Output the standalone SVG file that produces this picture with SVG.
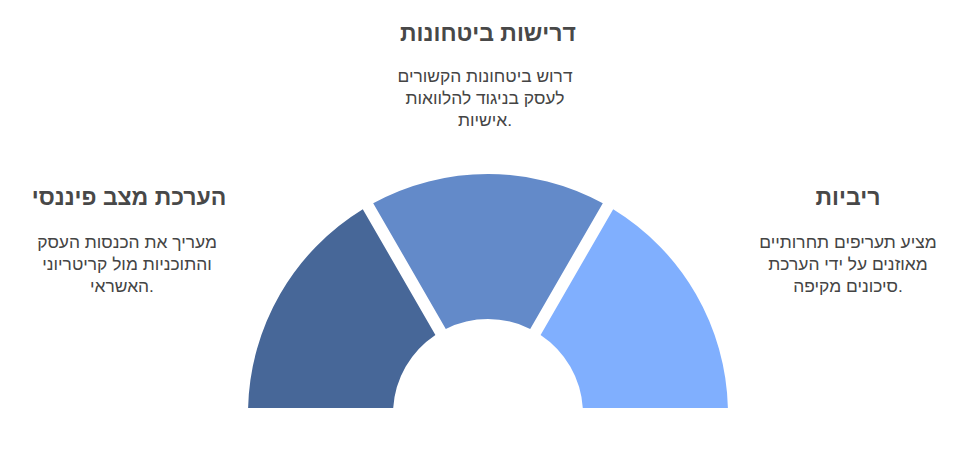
<svg xmlns="http://www.w3.org/2000/svg" width="977" height="468" viewBox="0 0 977 468">
<style>
.t{font-family:"Liberation Sans","DejaVu Sans",sans-serif;font-weight:bold;font-size:23px;fill:#484848;text-anchor:middle}
.b{font-family:"Liberation Sans","DejaVu Sans",sans-serif;font-size:17.4px;fill:#444444;text-anchor:middle}
</style>
<rect width="977" height="468" fill="#ffffff"/>
<g id="sector-left">
<path d="M 248.1 408 A 240 240 0 0 1 362.8 209.2 L 435.4 334.9 A 95 95 0 0 0 393.2 408 Z" fill="#476798"/>
</g>
<g id="sector-middle">
<path d="M 373.2 203.2 A 240 240 0 0 1 602.8 203.2 L 530.2 328.9 A 95 95 0 0 0 445.8 328.9 Z" fill="#638AC9"/>
</g>
<g id="sector-right">
<path d="M 727.9 408 A 240 240 0 0 0 613.2 209.2 L 540.6 334.9 A 95 95 0 0 1 582.8 408 Z" fill="#80AFFE"/>
</g>
<g id="label-top">
<text class="t" x="488" y="41">דרישות ביטחונות</text>
<text class="b" x="485" y="82">דרוש ביטחונות הקשורים</text>
<text class="b" x="485" y="104">לעסק בניגוד להלוואות</text>
<text class="b" x="485" y="126">אישיות.</text>
</g>
<g id="label-left">
<text class="t" x="129" y="205">הערכת מצב פיננסי</text>
<text class="b" x="127" y="248">מעריך את הכנסות העסק</text>
<text class="b" x="127" y="270">והתוכניות מול קריטריוני</text>
<text class="b" x="122" y="292">האשראי.</text>
</g>
<g id="label-right">
<text class="t" x="848" y="205">ריביות</text>
<text class="b" x="848" y="248">מציע תעריפים תחרותיים</text>
<text class="b" x="848" y="270">מאוזנים על ידי הערכת</text>
<text class="b" x="848" y="292">סיכונים מקיפה.</text>
</g>
<g id="connectors"></g>
</svg>
